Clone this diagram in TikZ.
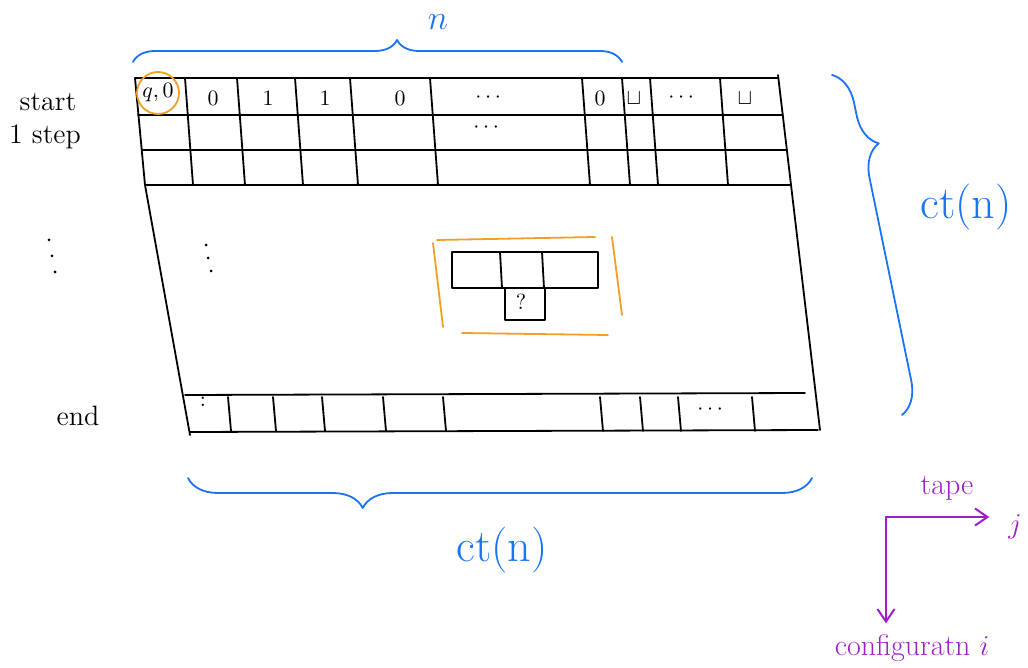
\documentclass[tikz,border=0pt]{standalone}
\usepackage{amsmath,amssymb}
\usetikzlibrary{arrows.meta,positioning,calc,decorations.pathreplacing}
\definecolor{tblue}{HTML}{1A73F2}
\definecolor{torange}{HTML}{F2A024}
\definecolor{tpurple}{HTML}{A01EC8}

\begin{document}
\begin{tikzpicture}[x=0.5pt, y=-0.5pt, line cap=round, line join=round,
  grid/.style={line width=0.9pt, black},
  cell/.style={font=\fontsize{11}{13}\selectfont, inner sep=1pt},
  sidelbl/.style={font=\fontsize{14}{16}\selectfont},
  bracelbl/.style={tblue, font=\fontsize{23}{25}\selectfont},
  tbrace/.style={tblue, line width=0.9pt, decorate,
                 decoration={brace, amplitude=#1}},
  axislbl/.style={tpurple, font=\fontsize{15}{17}\selectfont},
  axisarrow/.style={tpurple, line width=1pt, -{Straight Barb[length=2.2mm,width=3mm]}}]
\useasboundingbox (0,0) rectangle (1028,668);
% =================== tableau outline ===================
\coordinate (TL) at (135,78);
\coordinate (TR) at (778,75);
\coordinate (BR) at (820,430);
\coordinate (BL) at (190,435);
\draw[grid] (TR) -- (BR);
\draw[grid] (TL) -- (145,185) -- (BL);
% first three rows
\foreach \y/\xl/\xr in {78/135/778, 115/138/783, 150/142/787, 185/145/791}{
  \draw[grid] (\xl,\y) -- (\xr,\y);
}
\foreach \x in {185,237,295,350,430,582,622,650,720}{
  \draw[grid] (\x,78) -- ({\x+8},185);
}
% contents of the start row
\node[cell, circle, draw=torange, line width=0.9pt, minimum size=21pt] (q0) at (158,93) {$q,0$};
\foreach \x/\lb [count=\i] in {213/$0$, 268/$1$, 325/$1$, 400/$0$, 490/$\cdots$,
                               600/$0$, 634/$\sqcup$, 683/$\cdots$, 745/$\sqcup$}{
  \node[cell] (c\i) at (\x,98) {\lb};
}
\node[cell] (r2dots) at (488,128) {$\cdots$};
% =================== last row ===================
\draw[grid] (185,395) -- (805,393);
\draw[grid] (190,432) -- (818,430);
\foreach \x in {228,273,322,383,443,600,640,678,752}{
  \draw[grid] (\x,397) -- ({\x+3},431);
}
\node[cell] (e1) at (203,402) {$:$};
\node[cell] (e2) at (712,410) {$\cdots$};
% vertical dots
\foreach \x/\y in {49/240, 52/256, 55/272, 206/245, 208/258, 211/271}{
  \fill (\x,\y) circle (1.5);
}
% =================== window ===================
\draw[grid] (452,252) rectangle (598,288);
\draw[grid] (500,252) -- (502,288);
\draw[grid] (542,252) -- (544,288);
\draw[grid] (505,288) rectangle (545,320);
\node[cell] (qm) at (521,302) {$?$};
\draw[torange, line width=0.9pt] (437,240) -- (595,237);
\draw[torange, line width=0.9pt] (462,333) -- (608,335);
\draw[torange, line width=0.9pt] (433,243) -- (443,327);
\draw[torange, line width=0.9pt] (612,237) -- (622,315);
% =================== row labels ===================
\node[sidelbl] (start) at (48,102) {start};
\node[sidelbl] (onestep) at (45,137) {1 step};
\node[sidelbl] (endlbl) at (78,416) {end};
% =================== braces ===================
\draw[tbrace=11pt, decoration={aspect=0.54}] (133,62) -- (622,62);
\node[bracelbl, font=\fontsize{18}{20}\selectfont] (nlbl) at (438,22) {$n$};
\draw[tbrace=16pt, decoration={aspect=0.22}] (832,75) -- (902,415);
\node[bracelbl] (ctright) at (966,207) {ct(n)};
\draw[tbrace=15pt, decoration={aspect=0.28, mirror}] (188,478) -- (812,478);
\node[bracelbl] (ctbottom) at (502,550) {ct(n)};
% =================== axes ===================
\coordinate (ax) at (886,517);
\node[axislbl] (tape) at (947,488) {tape};
\node[axislbl] (jlbl) at (1015,527) {$j$};
\node[axislbl] (ilbl) at (912,648) {configuratn $i$};
\draw[axisarrow, shorten >=6pt] (ax) -- (jlbl.west |- ax);
\draw[axisarrow, shorten >=2pt] (ax) -- (ax |- ilbl.north);
\end{tikzpicture}
\end{document}
